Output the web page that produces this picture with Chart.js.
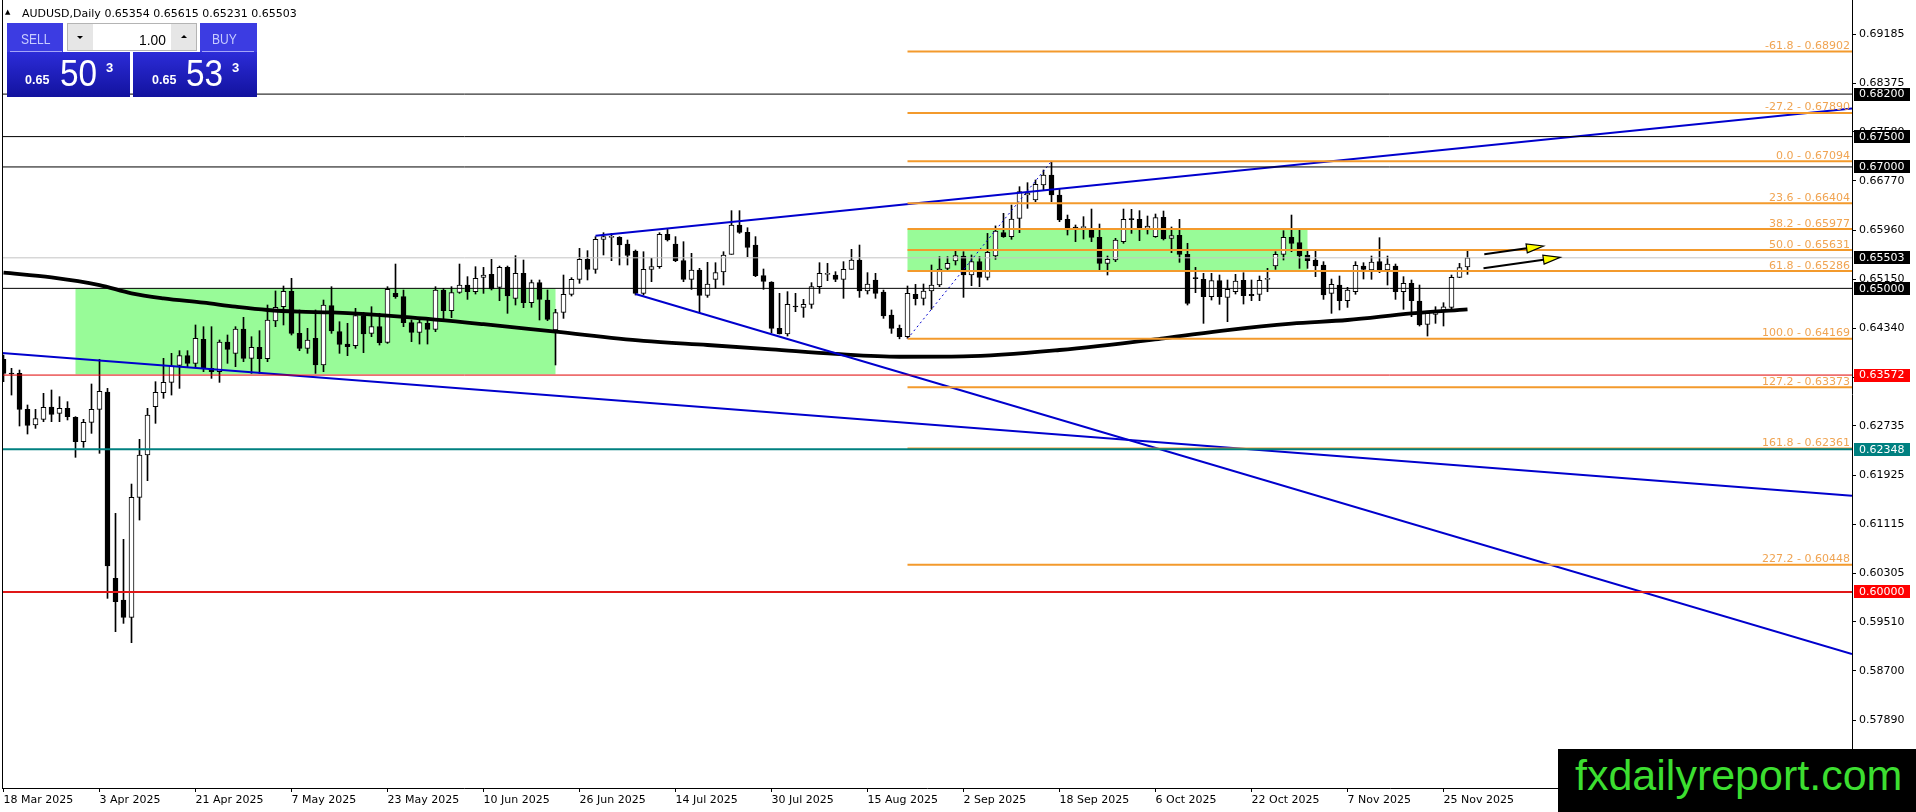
<!DOCTYPE html>
<html><head><meta charset="utf-8">
<script src="https://cdn.jsdelivr.net/npm/chart.js@4.4.1/dist/chart.umd.min.js"></script>
<style>
html,body{margin:0;padding:0;background:#fff;overflow:hidden}
#wrap{position:relative;width:1916px;height:812px}
#c{position:absolute;left:0;top:0}
.t{position:absolute;line-height:1;white-space:pre}
.hd{position:absolute;top:23px;height:29px;background:#3c3ce2}
.blk{position:absolute;top:52px;height:45px;background:linear-gradient(#2c2cd8,#12129e)}
.sep{position:absolute;top:51px;height:1px;background:#a4a4f8}
.lbl{font-family:"Liberation Sans",Arial,sans-serif;font-size:14px;color:#c8ccff;transform:scaleX(0.86);transform-origin:left top}
.small{font-family:"Liberation Sans",Arial,sans-serif;font-weight:bold;font-size:12.5px;color:#fff}
.big{font-family:"Liberation Sans",Arial,sans-serif;font-size:37px;color:#fff;transform:scaleX(0.9);transform-origin:left top}
.sup{font-family:"Liberation Sans",Arial,sans-serif;font-weight:bold;font-size:13px;color:#fff}
#spin{position:absolute;left:67px;top:23px;width:130px;height:28px;background:#fff;box-sizing:border-box;border:1px solid #b4b4b4}
.btn{position:absolute;top:0;width:25px;height:26px;background:#e6e6e6}
.tri{position:absolute;width:0;height:0;border-left:3px solid transparent;border-right:3px solid transparent}
#wm{position:absolute;left:1558px;top:749px;width:358px;height:63px;background:#000}
</style></head><body>
<div id="wrap">
<canvas id="c" width="1916" height="812"></canvas>
<div class="t" style="left:5px;top:9px;font-family:'DejaVu Sans';font-size:7px;color:#000">▲</div>
<div class="t" id="hdr" style="left:22px;top:8px;font-family:'DejaVu Sans';font-size:11px;color:#000"></div>
<div class="hd" style="left:7px;width:56px"></div>
<div class="hd" style="left:200px;width:57px"></div>
<div class="blk" style="left:7px;width:123px"></div>
<div class="blk" style="left:133px;width:124px"></div>
<div class="sep" style="left:10px;width:52px"></div>
<div class="sep" style="left:202px;width:52px"></div>
<div class="t lbl" style="left:21px;top:31.5px">SELL</div>
<div class="t lbl" style="left:212px;top:31.5px">BUY</div>
<div id="spin">
  <div class="btn" style="left:0"><div class="tri" style="left:9px;top:12px;border-top:3px solid #000"></div></div>
  <div class="t" style="left:71px;top:8px;font-family:'Liberation Sans',Arial,sans-serif;font-size:15px;color:#000;transform:scaleX(0.92);transform-origin:left top">1.00</div>
  <div class="btn" style="right:0"><div class="tri" style="left:10px;top:11px;border-bottom:3px solid #000"></div></div>
</div>
<div class="t small" style="left:25px;top:74px">0.65</div>
<div class="t big" style="left:60px;top:54.5px">50</div>
<div class="t sup" style="left:106px;top:60.7px">3</div>
<div class="t small" style="left:152px;top:74px">0.65</div>
<div class="t big" style="left:186px;top:54.5px">53</div>
<div class="t sup" style="left:232px;top:60.7px">3</div>
<div id="wm"><div class="t" style="left:17px;top:5px;font-family:'Liberation Sans',Arial,sans-serif;font-size:43px;color:rgb(60,222,48)">fxdailyreport.com</div></div>
</div>
<script>
// ---- header quote ----
const SYMBOL = "AUDUSD,Daily";
const LAST_OHLC = [0.65354, 0.65615, 0.65231, 0.65503];

// ---- daily candles (bar 0 = 18 Mar 2025, bar 183 = 28 Nov 2025) ----
const OPEN = [0.63831,0.63600,0.63600,0.63007,0.62749,0.62843,0.63046,0.62942,0.63024,0.62876,
0.62475,0.62793,0.63007,0.63293,0.60223,0.59866,0.59581,0.61558,0.62255,0.63051,
0.63282,0.63452,0.63732,0.63891,0.63765,0.64161,0.63683,0.63628,0.64117,0.63930,
0.64331,0.63848,0.64029,0.63842,0.64462,0.64699,0.64951,0.64259,0.64012,0.64177,
0.63738,0.64715,0.64287,0.64083,0.64056,0.64550,0.64259,0.64369,0.64111,0.64918,
0.64863,0.64435,0.64276,0.64424,0.64325,0.64973,0.64633,0.64935,0.65055,0.64946,
0.65182,0.65231,0.65017,0.65346,0.64836,0.65248,0.64764,0.65094,0.64808,0.64314,
0.64605,0.64902,0.65149,0.65478,0.65313,0.65808,0.65841,0.65841,0.65731,0.65615,
0.64918,0.65313,0.65357,0.65890,0.65731,0.65456,0.65149,0.65302,0.64885,0.65149,
0.65270,0.65561,0.66044,0.65923,0.65714,0.65209,0.65105,0.64341,0.64248,0.64698,
0.64688,0.64737,0.65028,0.65231,0.65220,0.65149,0.65313,0.65467,0.64957,0.65138,
0.64940,0.64561,0.64341,0.64204,0.64902,0.64836,0.64957,0.65055,0.65330,0.65451,
0.65533,0.65220,0.65440,0.65182,0.65533,0.65917,0.65851,0.66154,0.66538,0.66456,
0.66703,0.66867,0.66538,0.66137,0.66000,0.66000,0.65972,0.65840,0.65412,0.65467,
0.65769,0.66137,0.66137,0.65989,0.65851,0.66170,0.65824,0.65873,0.65561,0.65165,
0.65149,0.64863,0.65127,0.64852,0.64945,0.65132,0.64902,0.64902,0.65149,0.65368,
0.65561,0.65841,0.65753,0.65550,0.65467,0.65385,0.64918,0.65055,0.64797,0.64946,
0.65368,0.65302,0.65440,0.65302,0.65368,0.64946,0.65083,0.64792,0.64407,0.64572,
0.64633,0.64687,0.65182,0.65354];
const HIGH = [0.63902,0.63683,0.63655,0.63079,0.63007,0.63271,0.63326,0.63216,0.63134,0.62887,
0.62843,0.63425,0.63831,0.63353,0.61294,0.60866,0.61777,0.62513,0.63024,0.63463,
0.63848,0.63930,0.63974,0.63974,0.64397,0.64369,0.64369,0.64150,0.64232,0.64369,
0.64523,0.64204,0.64303,0.64726,0.64957,0.65039,0.65165,0.64644,0.64342,0.64644,
0.64808,0.65028,0.64451,0.64424,0.64671,0.64605,0.64698,0.64589,0.65028,0.65401,
0.64973,0.64479,0.64506,0.64506,0.65028,0.65001,0.65028,0.65401,0.65193,0.65357,
0.65346,0.65478,0.65368,0.65368,0.65539,0.65467,0.65138,0.65138,0.64973,0.64655,
0.65220,0.65176,0.65659,0.65621,0.65852,0.65917,0.65906,0.65852,0.65797,0.65632,
0.65604,0.65495,0.65917,0.65972,0.65852,0.65769,0.65577,0.65330,0.65429,0.65423,
0.65604,0.66280,0.66280,0.65999,0.65852,0.65319,0.65110,0.64918,0.64946,0.64918,
0.64819,0.65094,0.65423,0.65412,0.65275,0.65440,0.65643,0.65714,0.65259,0.65248,
0.64973,0.64644,0.64396,0.65039,0.65066,0.65072,0.65385,0.65522,0.65522,0.65632,
0.65604,0.65550,0.65522,0.65906,0.66029,0.66236,0.66373,0.66675,0.66741,0.66785,
0.66950,0.67094,0.66631,0.66208,0.66044,0.66181,0.66307,0.66060,0.65533,0.65824,
0.66307,0.66302,0.66280,0.66192,0.66225,0.66274,0.66011,0.66137,0.65742,0.65346,
0.65248,0.65248,0.65220,0.65138,0.65231,0.65258,0.65138,0.65204,0.65330,0.65604,
0.65950,0.66208,0.65961,0.65632,0.65616,0.65440,0.65154,0.65204,0.65017,0.65440,
0.65423,0.65533,0.65835,0.65533,0.65401,0.65193,0.65138,0.65055,0.64616,0.64698,
0.64764,0.65220,0.65412,0.65615];
const LOW = [0.63463,0.63243,0.62733,0.62601,0.62694,0.62804,0.62804,0.62804,0.62832,0.62217,
0.62381,0.62612,0.62283,0.59894,0.59345,0.59482,0.59164,0.61184,0.61832,0.62777,
0.63189,0.63243,0.63353,0.63710,0.63710,0.63628,0.63518,0.63452,0.63765,0.63710,
0.63793,0.63600,0.63600,0.63793,0.64369,0.64397,0.64232,0.63974,0.63930,0.63600,
0.63628,0.64259,0.63930,0.63891,0.64012,0.63941,0.64204,0.64067,0.64094,0.64836,
0.64369,0.64122,0.64083,0.64083,0.64287,0.64479,0.64517,0.64918,0.64819,0.64907,
0.64918,0.64973,0.64797,0.64589,0.64726,0.64682,0.64688,0.64479,0.64468,0.63738,
0.64506,0.64874,0.65083,0.65138,0.65248,0.65550,0.65456,0.65385,0.65385,0.64891,
0.64891,0.65110,0.65330,0.65780,0.65440,0.65110,0.64984,0.64600,0.64852,0.65001,
0.65055,0.65561,0.65906,0.65522,0.65193,0.64984,0.64270,0.64248,0.64215,0.64616,
0.64523,0.64671,0.64918,0.65127,0.65110,0.64836,0.65313,0.64852,0.64907,0.64836,
0.64506,0.64259,0.64169,0.64177,0.64726,0.64726,0.64655,0.65028,0.65302,0.65385,
0.64852,0.65044,0.65028,0.65138,0.65478,0.65840,0.65808,0.65917,0.66318,0.66428,
0.66620,0.66428,0.66099,0.65879,0.65769,0.65813,0.65769,0.65291,0.65220,0.65440,
0.65742,0.65906,0.65786,0.65895,0.65840,0.65797,0.65588,0.65429,0.64726,0.64929,
0.64424,0.64808,0.64737,0.64451,0.64907,0.64742,0.64797,0.64797,0.64945,0.65313,
0.65467,0.65604,0.65330,0.65330,0.65193,0.64819,0.64589,0.64644,0.64687,0.64902,
0.65154,0.65149,0.65259,0.65055,0.64819,0.64655,0.64534,0.64380,0.64215,0.64424,
0.64380,0.64644,0.65176,0.65231];
const CLOSE = [0.63600,0.63589,0.63007,0.62744,0.62854,0.63040,0.62925,0.63024,0.62887,0.62475,
0.62793,0.63007,0.63304,0.60427,0.59839,0.59581,0.61558,0.62255,0.62914,0.63287,
0.63452,0.63721,0.63891,0.63765,0.64177,0.63683,0.63628,0.64117,0.63996,0.64331,
0.63848,0.64029,0.63842,0.64479,0.64688,0.64951,0.64259,0.64012,0.64150,0.63738,
0.64726,0.64298,0.64078,0.64040,0.64550,0.64248,0.64369,0.64105,0.64984,0.64863,
0.64435,0.64276,0.64435,0.64325,0.64973,0.64633,0.64929,0.65055,0.64946,0.65165,
0.65220,0.64989,0.65346,0.64874,0.65248,0.64764,0.65094,0.64819,0.64490,0.64600,
0.64902,0.65149,0.65478,0.65313,0.65808,0.65852,0.65852,0.65714,0.65544,0.64918,
0.65313,0.65357,0.65890,0.65797,0.65456,0.65149,0.65302,0.64885,0.65072,0.65259,
0.65550,0.66044,0.65923,0.65676,0.65209,0.65116,0.64341,0.64248,0.64737,0.64693,
0.64737,0.65028,0.65248,0.65237,0.65149,0.65313,0.65467,0.64957,0.65072,0.64918,
0.64545,0.64341,0.64204,0.64918,0.64830,0.64957,0.65055,0.65319,0.65412,0.65539,
0.65220,0.65440,0.65182,0.65593,0.65945,0.65851,0.66143,0.66593,0.66565,0.66714,
0.66867,0.66538,0.66126,0.65961,0.65995,0.66005,0.65840,0.65412,0.65478,0.65797,
0.66137,0.66132,0.65989,0.66027,0.66165,0.65813,0.65868,0.65561,0.64753,0.65160,
0.64863,0.65127,0.64863,0.64984,0.65121,0.64880,0.64880,0.65132,0.65154,0.65561,
0.65840,0.65742,0.65533,0.65456,0.65368,0.64891,0.65066,0.64797,0.64973,0.65379,
0.65313,0.65434,0.65302,0.65401,0.64946,0.65083,0.64797,0.64396,0.64589,0.64616,
0.64698,0.65182,0.65341,0.65503];

// ---- moving average (read at sample bars) ----
const MA_BARS   = [0,6,12,16,20,25,29,33,37,41,50,60,69,80,88,96,104,112,120,132,145,153,161,168,176,183];
const MA_VALUES = [0.65258,0.65182,0.65055,0.64918,0.64836,0.64764,0.64698,0.64644,0.64616,0.64603,0.64530,0.64410,0.64286,0.64135,0.64067,0.63996,0.63920,0.63874,0.63880,0.63985,0.64177,0.64314,0.64420,0.64479,0.64589,0.64655];

// ---- axis ticks ----
const X_TICK_LABELS = ["18 Mar 2025","3 Apr 2025","21 Apr 2025","7 May 2025","23 May 2025","10 Jun 2025","26 Jun 2025","14 Jul 2025","30 Jul 2025","15 Aug 2025","2 Sep 2025","18 Sep 2025","6 Oct 2025","22 Oct 2025","7 Nov 2025","25 Nov 2025"];
const X_TICK_STEP = 12;
const Y_TICKS = [0.69185,0.68375,0.67580,0.66770,0.65960,0.65150,0.64340,0.63530,0.62735,0.61925,0.61115,0.60305,0.59510,0.58700,0.57890,0.57080];

// ---- horizontal levels ----
const H_LEVELS = [0.68200,0.67500,0.67000,0.65000,0.63572,0.62348,0.60000,0.65503];
// ---- Fibonacci ----
const FIB_LEVELS = [-61.8,-27.2,0.0,23.6,38.2,50.0,61.8,100.0,127.2,161.8,227.2];
const FIB_PRICES = [0.68902,0.67890,0.67094,0.66404,0.65977,0.65631,0.65286,0.64169,0.63373,0.62361,0.60448];
const FIB_START_BAR = 113;
const FIB_BASE = [[113,0.64169],[131,0.67094]];
// ---- trend lines [bar1, price1, bar2, price2] ----
const TRENDS = [[74,0.65868,231.06,0.67963],[-0.44,0.63940,231.06,0.61585],[79,0.64907,231.06,0.58977]];
// ---- zones [bar1, bar2, top, bottom] ----
const ZONES = [[9,69,0.65000,0.63585],[113,163,0.65977,0.65286]];
// ---- arrows [bar1, price1, bar2, price2] ----
const ARROWS = [[185.1,0.65561,192.5,0.65698],[185,0.65331,194.6,0.65512]];

// ===== layout / styles =====
const X_MIN = -0.1875, X_MAX = 231.0625;
const Y_MIN = 0.567702, Y_MAX = 0.6975;
const H_STYLES = [
 {c:'#000',w:1},{c:'#000',w:1},{c:'#000',w:1},{c:'#000',w:1},
 {c:'#e00000',w:1},{c:'#008080',w:2},{c:'#e01818',w:2},{c:'#c4c4c4',w:1}];
const BOX_COLORS = ['#000','#000','#000','#000','#ff0000','#008080','#ff0000','#000'];
const FIB_COLOR = '#f39a2c', FIB_TEXT = '#f0a452', BLUE = '#0000cd';

document.getElementById('hdr').textContent = SYMBOL + ' ' + LAST_OHLC.map(v=>v.toFixed(5)).join(' ');

const datasets = [];
const lineDs = (pts, color, width, extra) => Object.assign({
  type:'line', data: pts.map(p=>({x:p[0],y:p[1]})), borderColor: color, borderWidth: width,
  pointRadius:0, fill:false, tension:0, order:1
}, extra||{});

H_LEVELS.forEach((v,i)=> datasets.push(lineDs([[X_MIN,v],[X_MAX,v]], H_STYLES[i].c, H_STYLES[i].w)));
FIB_PRICES.forEach(v=> datasets.push(lineDs([[FIB_START_BAR,v],[X_MAX,v]], FIB_COLOR, 2)));
datasets.push(lineDs(FIB_BASE, BLUE, 1, {borderDash:[2,3]}));
TRENDS.forEach(t=> datasets.push(lineDs([[t[0],t[1]],[t[2],t[3]]], BLUE, 2)));
datasets.push(lineDs(MA_BARS.map((b,i)=>[b,MA_VALUES[i]]), '#000', 3.8, {tension:0.4, cubicInterpolationMode:'monotone'}));
datasets.push({type:'bar', data: OPEN.map((o,i)=>({x:i, y:[o, CLOSE[i]]})),
  backgroundColor: OPEN.map((o,i)=> CLOSE[i] >= o ? '#ffffff' : '#000000'),
  borderColor:'#000', borderWidth:1, borderSkipped:false, barThickness:5, grouped:false, minBarLength:1, order:2});
datasets.push({type:'bar', data: LOW.map((l,i)=>({x:i, y:[l, HIGH[i]]})),
  backgroundColor:'#000', borderWidth:0, barThickness:1, grouped:false, order:3});

const overlay = {
  id:'overlay',
  beforeDatasetsDraw(chart){
    const {ctx, chartArea:a, scales:{x,y}} = chart;
    ctx.save();
    ctx.beginPath(); ctx.rect(a.left,a.top,a.right-a.left,a.bottom-a.top); ctx.clip();
    ctx.fillStyle = '#98fb98';
    ZONES.forEach(z=>{
      const x1=x.getPixelForValue(z[0]), x2=x.getPixelForValue(z[1]);
      const y1=y.getPixelForValue(z[2]), y2=y.getPixelForValue(z[3]);
      ctx.fillRect(x1,y1,x2-x1,y2-y1);
    });
    ctx.restore();
  },
  afterDatasetsDraw(chart){
    const {ctx, chartArea:a, scales:{x,y}} = chart;
    ctx.save();
    ctx.fillStyle='#000'; ctx.fillRect(a.left, a.top, 1, a.bottom-a.top);
    ctx.font = '11px "DejaVu Sans"'; ctx.fillStyle = FIB_TEXT; ctx.textAlign='right'; ctx.textBaseline='alphabetic';
    FIB_PRICES.forEach((p,i)=>{
      ctx.fillText(FIB_LEVELS[i].toFixed(1)+' - '+p.toFixed(5), a.right-2, y.getPixelForValue(p)-2.5);
    });
    ARROWS.forEach(r=>{
      const x1=x.getPixelForValue(r[0]), y1=y.getPixelForValue(r[1]);
      const x2=x.getPixelForValue(r[2]), y2=y.getPixelForValue(r[3]);
      const ang=Math.atan2(y2-y1,x2-x1), L=17, W=4.5;
      const bx=x2-L*Math.cos(ang), by=y2-L*Math.sin(ang);
      ctx.strokeStyle='#000'; ctx.lineWidth=2;
      ctx.beginPath(); ctx.moveTo(x1,y1); ctx.lineTo(bx,by); ctx.stroke();
      ctx.beginPath();
      ctx.moveTo(x2,y2);
      ctx.lineTo(bx+W*Math.sin(ang), by-W*Math.cos(ang));
      ctx.lineTo(bx-W*Math.sin(ang), by+W*Math.cos(ang));
      ctx.closePath();
      ctx.fillStyle='#ffff00'; ctx.fill(); ctx.lineWidth=1.2; ctx.stroke();
    });
    ctx.restore();
  },
  afterDraw(chart){
    const {ctx, chartArea:a, scales:{y}} = chart;
    ctx.save();
    ctx.font='11px "DejaVu Sans"'; ctx.textAlign='left'; ctx.textBaseline='middle';
    H_LEVELS.forEach((v,i)=>{
      const py=y.getPixelForValue(v);
      ctx.fillStyle=BOX_COLORS[i]; ctx.fillRect(a.right+2, Math.round(py-6.5), 56, 13);
      ctx.fillStyle='#fff'; ctx.fillText(v.toFixed(5), a.right+7, py+0.5);
    });
    ctx.restore();
  }
};

Chart.defaults.font.family = 'DejaVu Sans';
Chart.defaults.font.size = 11;
Chart.defaults.color = '#000';

new Chart(document.getElementById('c'), {
  type:'bar',
  data:{datasets},
  plugins:[overlay],
  options:{
    responsive:false, devicePixelRatio:1, animation:false, events:[],
    layout:{padding:{left:2,right:0,top:0,bottom:0}},
    plugins:{legend:{display:false}, tooltip:{enabled:false}},
    scales:{
      x:{type:'linear', min:X_MIN, max:X_MAX, offset:false, position:'bottom',
        grid:{display:true, drawOnChartArea:false, drawTicks:true, tickLength:4, color:'#000', offset:false},
        border:{display:true, color:'#000', width:1},
        ticks:{autoSkip:false, maxRotation:0, align:'start', padding:2, color:'#000',
          callback:(v,i)=> X_TICK_LABELS[i]},
        afterBuildTicks:s=>{ s.ticks = X_TICK_LABELS.map((l,i)=>({value:i*X_TICK_STEP})); },
        afterFit:s=>{ s.height=24; s.paddingLeft=0; s.paddingRight=0; }
      },
      y:{type:'linear', min:Y_MIN, max:Y_MAX, position:'right',
        grid:{display:true, drawOnChartArea:false, drawTicks:true, tickLength:4, color:'#000'},
        border:{display:true, color:'#000', width:1},
        ticks:{autoSkip:false, padding:3, color:'#000', callback:v=> Number(v).toFixed(5)},
        afterBuildTicks:s=>{ s.ticks = Y_TICKS.map(v=>({value:v})); },
        afterFit:s=>{ s.width=64; s.paddingTop=0; s.paddingBottom=0; }
      }
    }
  }
});
</script>
</body></html>
